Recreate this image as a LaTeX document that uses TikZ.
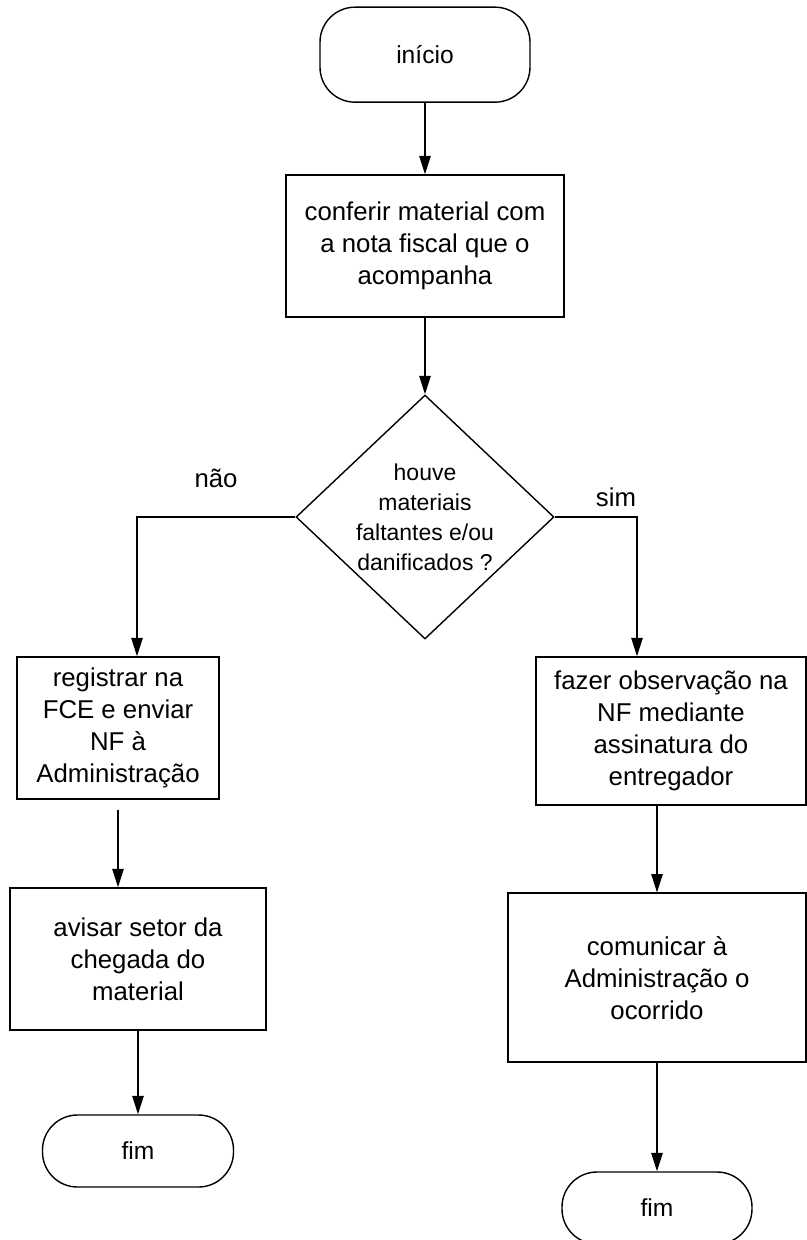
\documentclass[tikz,border=0pt]{standalone}
\usepackage{fontspec}
\setmainfont{Liberation Sans}
\usetikzlibrary{arrows.meta,positioning,calc,shapes.geometric}

\begin{document}
\begin{tikzpicture}[
  terminal/.style={draw,rounded corners=1.05cm,font=\fontsize{21}{26}\selectfont},
  procbox/.style={draw,align=center,inner sep=0pt,font=\fontsize{22}{27.3}\selectfont},
  decision/.style={draw,diamond,minimum width=7.74cm,minimum height=7.32cm,inner sep=0pt},
  answer/.style={font=\fontsize{22}{27}\selectfont},
  flow/.style={-{Triangle[length=5.5mm,width=3.4mm]}},
  line width=1.2pt
]
\useasboundingbox (0,0) rectangle (24.18,-37.2);
\node[terminal,minimum width=6.3cm,minimum height=2.85cm] (inicio) at (12.75,-1.64) {início};
\node[procbox,minimum width=8.34cm,minimum height=4.26cm] (confere) at (12.75,-7.38) {conferir material com\\a nota fiscal que o\\acompanha};
\node[decision] (decide) at (12.75,-15.51) {};
\node[align=center,font=\fontsize{19.6}{25.6}\selectfont] (pergunta) at (decide) {houve\\materiais\\faltantes e/ou\\danificados ?};
\node[answer] (nao) at (6.48,-14.34) {não};
\node[answer] (sim) at (18.48,-14.91) {sim};

\node[procbox,minimum width=6.06cm,minimum height=4.26cm] (registra) at (3.54,-21.84) {registrar na\\FCE e enviar\\NF à\\Administração};
\node[procbox,minimum width=7.68cm,minimum height=4.26cm] (avisa) at (4.14,-28.77) {avisar setor da\\chegada do\\material};
\node[terminal,minimum width=5.73cm,minimum height=2.16cm] (fimesq) at (4.14,-34.53) {fim};

\node[procbox,minimum width=8.1cm,minimum height=4.44cm] (observa) at (20.13,-21.93) {fazer observação na\\NF mediante\\assinatura do\\entregador};
\node[procbox,minimum width=8.94cm,minimum height=5.07cm] (comunica) at (19.71,-29.33) {comunicar à\\Administração o\\ocorrido};
\node[terminal,minimum width=5.7cm,minimum height=2.16cm] (fimdir) at (19.71,-36.24) {fim};

\coordinate (colesq) at (4.11,0);
\coordinate (coldir) at (19.11,0);

\draw[flow] (inicio) -- (confere);
\draw[flow] (confere) -- (decide);
\draw[flow] (decide.west) -| (registra.north -| colesq);
\draw[flow] (decide.east) -| (observa.north -| coldir);
\draw[flow] ([yshift=-0.3cm]registra.south) -- (avisa.north -| registra);
\draw[flow] (avisa) -- (fimesq);
\draw[flow] (observa.south -| comunica) -- (comunica);
\draw[flow] (comunica) -- (fimdir);
\end{tikzpicture}
\end{document}
